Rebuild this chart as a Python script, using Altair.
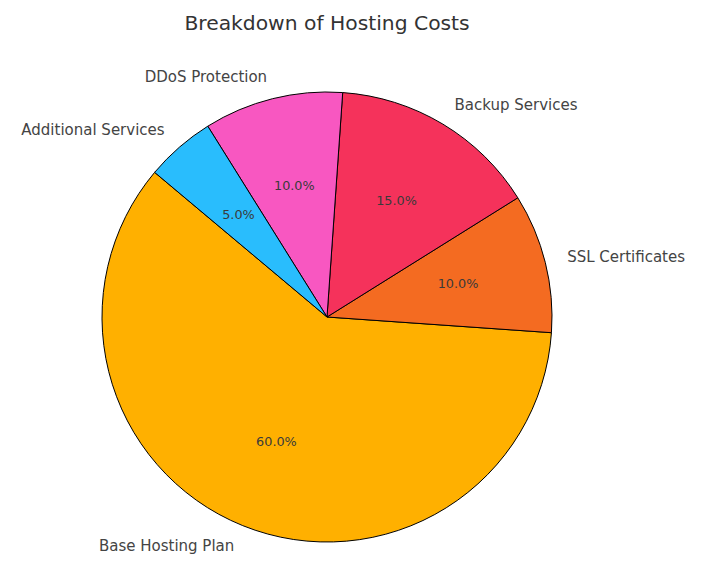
import math
import altair as alt
import pandas as pd

categories = ["Base Hosting Plan", "SSL Certificates", "Backup Services", "DDoS Protection", "Additional Services"]
values = [60, 10, 15, 10, 5]
colors = ["#FFB000", "#F46B21", "#F5325B", "#F857C1", "#29BDFD"]

START_DEG = 140  # matplotlib-style start angle, counter-clockwise

total = sum(values)
rows = []
cum = 0.0
for i, (c, v) in enumerate(zip(categories, values)):
    mid = START_DEG + (cum + v / 2) / total * 360
    cum += v
    right = math.cos(math.radians(mid)) > 0
    rows.append({
        "category": c,
        "value": v,
        "idx": i,
        "pct": f"{v / total * 100:.1f}%",
        "lab_r": c if right else "",
        "lab_l": "" if right else c,
    })
df = pd.DataFrame(rows)

start = math.radians(90 - START_DEG)
theta_scale = alt.Scale(range=[start, start + 2 * math.pi])

base = alt.Chart(df).encode(
    theta=alt.Theta("value:Q", stack=True, scale=theta_scale),
    order=alt.Order("idx:Q", sort="descending"),
)

R = 225
arcs = base.mark_arc(outerRadius=R, stroke="black", strokeWidth=1).encode(
    color=alt.Color("category:N", scale=alt.Scale(domain=categories, range=colors), legend=None)
)

font = "DejaVu Sans"
lab_r = base.mark_text(radius=R * 1.1, align="left", baseline="middle", fontSize=15,
                       font=font, color="#444444").encode(text="lab_r:N")
lab_l = base.mark_text(radius=R * 1.1, align="right", baseline="middle", fontSize=15,
                       font=font, color="#444444").encode(text="lab_l:N")
pct = base.mark_text(radius=R * 0.6, align="center", baseline="middle", fontSize=12.8,
                     font=font, color="#3a3a3a").encode(text="pct:N")

chart = alt.layer(arcs, lab_r, lab_l, pct).properties(
    width=628,
    height=558,
    title=alt.TitleParams("Breakdown of Hosting Costs", font=font, fontSize=20.3,
                          fontWeight="normal", color="#333333", anchor="middle"),
).configure_view(stroke=None)

chart.save("out.html", embed_options={"renderer": "svg", "actions": False})
